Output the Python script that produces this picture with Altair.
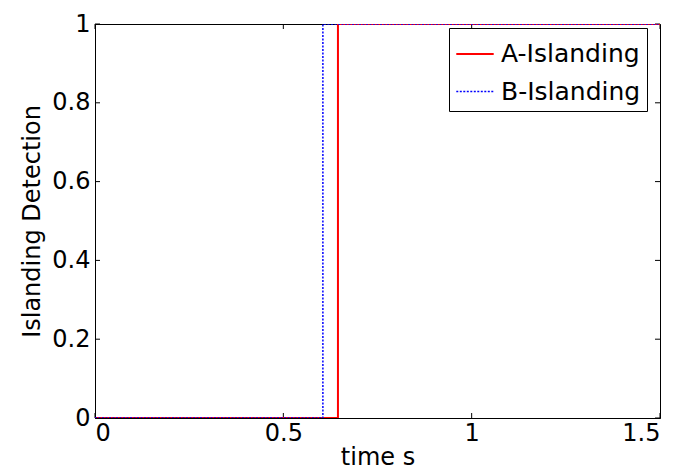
import altair as alt
import pandas as pd

# Data
series_names = ["A-Islanding", "B-Islanding"]
a_time = [0.0, 0.645, 0.645, 1.5]
a_value = [0, 0, 1, 1]
b_time = [0.0, 0.605, 0.605, 1.5]
b_value = [0, 0, 1, 1]
x_ticks = [0, 0.5, 1, 1.5]
y_ticks = [0, 0.2, 0.4, 0.6, 0.8, 1]

rows = []
for name, ts, vs in [(series_names[0], a_time, a_value), (series_names[1], b_time, b_value)]:
    for i, (t, v) in enumerate(zip(ts, vs)):
        rows.append({"series": name, "time": t, "value": v, "order": i})
df = pd.DataFrame(rows)

W, H = 565, 394
FONT = "DejaVu Sans"

xscale = alt.Scale(domain=[0, 1.5], nice=False, zero=False)
yscale = alt.Scale(domain=[0, 1], nice=False)

lines = alt.Chart(df).mark_line(clip=True).encode(
    x=alt.X("time:Q", scale=xscale,
            axis=alt.Axis(title="time s", values=x_ticks, format="~g", grid=False,
                          ticks=False, labelPadding=3, titlePadding=0)),
    y=alt.Y("value:Q", scale=yscale,
            axis=alt.Axis(title="Islanding Detection", values=y_ticks, format="~g",
                          grid=False, ticks=False, labelPadding=5, titlePadding=7)),
    color=alt.Color("series:N",
                    scale=alt.Scale(domain=series_names, range=["#ff0000", "#0000ff"]),
                    legend=alt.Legend(title=None, orient="none", legendX=354, legendY=4,
                                      symbolType="stroke", symbolSize=1400,
                                      symbolStrokeWidth=1.6, labelFontSize=25,
                                      labelFont=FONT, labelColor="black",
                                      strokeColor="black", fillColor="white",
                                      padding=6, rowPadding=5, labelOffset=6,
                                      labelLimit=300)),
    strokeDash=alt.StrokeDash("series:N",
                              scale=alt.Scale(domain=series_names, range=[[1, 0], [2, 1.5]]),
                              legend=None),
    strokeWidth=alt.StrokeWidth("series:N",
                                scale=alt.Scale(domain=series_names, range=[2, 1.5]),
                                legend=None),
    order="order:Q",
)

tick_x = pd.DataFrame({"t": x_ticks})
tick_y = pd.DataFrame({"v": y_ticks})

xt_bottom = alt.Chart(tick_x).mark_rule(color="black", strokeWidth=1).encode(
    x=alt.X("t:Q", scale=xscale), y=alt.value(H), y2=alt.value(H - 5))
xt_top = alt.Chart(tick_x).mark_rule(color="black", strokeWidth=1).encode(
    x=alt.X("t:Q", scale=xscale), y=alt.value(0), y2=alt.value(5))
yt_left = alt.Chart(tick_y).mark_rule(color="black", strokeWidth=1).encode(
    y=alt.Y("v:Q", scale=yscale), x=alt.value(0), x2=alt.value(5))
yt_right = alt.Chart(tick_y).mark_rule(color="black", strokeWidth=1).encode(
    y=alt.Y("v:Q", scale=yscale), x=alt.value(W), x2=alt.value(W - 5))

chart = alt.layer(xt_bottom, xt_top, yt_left, yt_right, lines).properties(
    width=W, height=H,
    background="white",
    autosize=alt.AutoSizeParams(type="none"),
    padding={"left": 87, "top": 16, "right": 13, "bottom": 54},
).configure_view(
    stroke="black", strokeWidth=1
).configure_axis(
    domainColor="black", domainWidth=1,
    labelFont=FONT, labelFontSize=24, labelColor="black",
    titleFont=FONT, titleFontSize=24, titleColor="black", titleFontWeight="normal",
)

chart.save("out.html", embed_options={"renderer": "svg", "actions": False})
